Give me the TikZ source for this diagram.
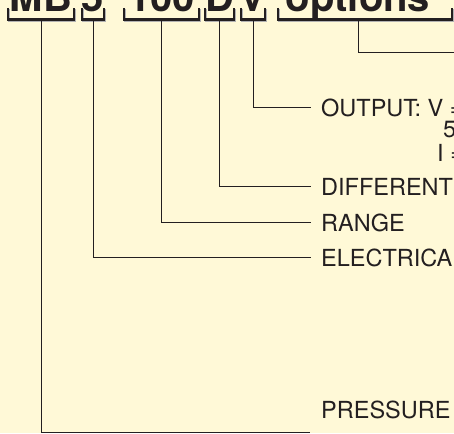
\documentclass[tikz,border=0pt]{standalone}
\usepackage{fontspec}
\setmainfont{TeX Gyre Heros}
\usepackage{xcolor}
\usetikzlibrary{positioning,calc}
\definecolor{pgbg}{RGB}{255,249,215}
\definecolor{pgink}{RGB}{35,31,32}
\tikzset{
  code/.style={font=\fontsize{40}{48}\selectfont\bfseries, text=pgink, inner sep=0pt, anchor=base},
  brace/.style={draw=pgink, line width=2.4pt},
  braceshade/.style={draw=black!30, line width=2.4pt},
  lead/.style={draw=pgink, line width=1pt},
  tag/.style={font=\fontsize{23.5}{27}\selectfont, text=pgink, inner sep=0pt, anchor=base west}
}

\begin{document}
\begin{tikzpicture}[x=1pt, y=-1pt]
        \fill[pgbg] (0,0) rectangle (454,433);
        \useasboundingbox (0,0) rectangle (454,433);
        \clip (0,0) rectangle (454,433);
        % code parts and their brackets
        \foreach \a/\b/\n/\t in {8/74/MB/MB, 82/104/five/5, 124/199/range/100, 205/234/diff/D, 241/265/out/V}{
          \node[code] (c\n) at ({(\a+\b)/2},12) {\t};
          \draw[braceshade] (\a+1,9) -- (\a+1,20.5) -- (\b+1,20.5) -- (\b+1,9);
          \draw[brace] (\a,8) -- (\a,19.5) -- (\b,19.5) -- (\b,8);
          \coordinate (k\n) at ({(\a+\b)/2},20);
        }
        \node[code] (copt) at (358,12) {options};
        \draw[braceshade] (279,9) -- (279,20.5) -- (453,20.5) -- (453,9);
        \draw[brace] (278,8) -- (278,19.5) -- (452,19.5) -- (452,8);
        \coordinate (kopt) at (358,20);
        % labels
        \node[tag] (tout) at (321,116) {OUTPUT: V =};
        \node[tag] (tout5) at (443,137) {5T};
        \node[tag] (toutI) at (437,161) {I =};
        \node[tag] (tdiff) at (321,195.5) {DIFFERENTIAL};
        \node[tag] (trange) at (321,231.5) {RANGE};
        \node[tag] (tfive) at (321,266.5) {ELECTRICAL};
        \node[tag] (tMB) at (321,418) {PRESSURE};
        \coordinate (eopt) at (460,53);
        \coordinate (eMB) at (310,432.5);
        % leaders
        \foreach \n in {out,diff,range,five}{\draw[lead] (k\n) |- ([xshift=-10pt]t\n.west);}
        \draw[lead] (kopt) |- (eopt);
        \draw[lead] (kMB) |- (eMB);
      \end{tikzpicture}
\end{document}
